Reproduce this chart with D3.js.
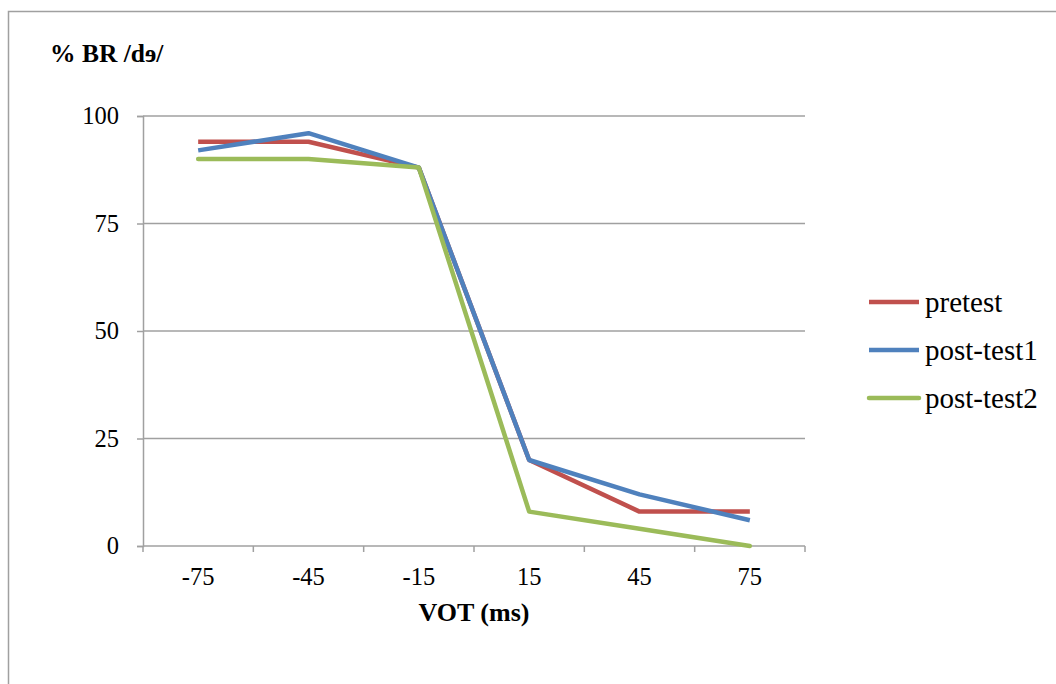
<!DOCTYPE html>
<html>
<head>
<meta charset="utf-8">
<script src="https://cdn.jsdelivr.net/npm/d3@7"></script>
<style>
  html, body { margin: 0; padding: 0; background: #fff; overflow: hidden; }
  svg { display: block; }
  svg text { font-family: "Liberation Serif", "Times New Roman", serif; fill: #000; }
</style>
</head>
<body>
<svg id="mainsvg" width="1056" height="684"></svg>
<script>
const categories = ['-75', '-45', '-15', '15', '45', '75'];
const pretest = [94, 94, 88, 20, 8, 8];
const postTest1 = [92, 96, 88, 20, 12, 6];
const postTest2 = [90, 90, 88, 8, 4, 0];
const yTicks = [0, 25, 50, 75, 100];

const series = [
  { name: 'pretest', values: pretest, color: '#C0504D', cap: 'butt' },
  { name: 'post-test1', values: postTest1, color: '#4F81BD', cap: 'butt' },
  { name: 'post-test2', values: postTest2, color: '#9BBB59', cap: 'round' }
];

const svg = d3.select('#mainsvg');
const margin = { top: 116, left: 143, right: 251, bottom: 138 };
const width = +svg.attr('width');
const height = +svg.attr('height');
const innerWidth = width - margin.left - margin.right;
const innerHeight = height - margin.top - margin.bottom;
const serif = '"Liberation Serif", "Times New Roman", serif';

// chart border: only the top and left edges are inside the page
svg.append('path')
  .attr('d', `M8.5,${height}V11.5H${width}`)
  .attr('fill', 'none').attr('stroke', '#a0a0a0').attr('stroke-width', 1.5);

const g = svg.append('g')
  .attr('transform', `translate(${margin.left}, ${margin.top})`);

const x = d3.scaleBand().domain(categories).range([0, innerWidth]);
const y = d3.scaleLinear().domain([0, 100]).range([innerHeight, 0]);

// gridlines
g.selectAll('.grid').data(yTicks.filter(d => d > 0)).join('line')
  .attr('class', 'grid')
  .attr('x1', 0).attr('x2', innerWidth)
  .attr('y1', d => y(d)).attr('y2', d => y(d))
  .attr('stroke', '#a0a0a0').attr('stroke-width', 1.5);

// y axis
const yAxis = g.append('g').call(d3.axisLeft(y).tickValues(yTicks).tickSize(6).tickPadding(18));
yAxis.attr('font-family', serif);
yAxis.select('.domain').attr('stroke', '#a0a0a0').attr('stroke-width', 1.5);
yAxis.selectAll('.tick line').attr('stroke', '#a0a0a0').attr('stroke-width', 1.5);
yAxis.selectAll('text').style('font-size', '24.5px').style('font-family', serif).attr('fill', '#000');

// x axis
const xAxis = g.append('g').attr('transform', `translate(0, ${innerHeight})`)
  .call(d3.axisBottom(x).tickSize(0).tickPadding(0));
xAxis.attr('font-family', serif);
xAxis.select('.domain').attr('stroke', '#a0a0a0').attr('stroke-width', 1.5).attr('d', `M0,0H${innerWidth}`);
xAxis.selectAll('.tick text').style('font-size', '24.5px').style('font-family', serif)
  .attr('fill', '#000').attr('dy', 0).attr('y', 39);
// tick marks at band boundaries
const bounds = categories.map(c => x(c)).concat([innerWidth]);
xAxis.selectAll('.bound').data(bounds).join('line')
  .attr('class', 'bound')
  .attr('x1', d => d).attr('x2', d => d)
  .attr('y1', 0).attr('y2', 6)
  .attr('stroke', '#a0a0a0').attr('stroke-width', 1.5);

// lines
const line = d3.line()
  .x((d, i) => x(categories[i]) + x.bandwidth() / 2)
  .y(d => y(d));

g.selectAll('.series').data(series).join('path')
  .attr('class', 'series')
  .attr('fill', 'none')
  .attr('stroke', d => d.color)
  .attr('stroke-width', 4.5)
  .attr('stroke-linejoin', 'round')
  .attr('stroke-linecap', d => d.cap)
  .attr('d', d => line(d.values));

// axis titles
svg.append('text').attr('x', 50).attr('y', 62)
  .style('font-size', '25.5px').attr('font-weight', 'bold')
  .text('% BR /dɘ/');
svg.append('text').attr('x', margin.left + innerWidth / 2).attr('y', 621)
  .attr('text-anchor', 'middle')
  .style('font-size', '26px').attr('font-weight', 'bold')
  .text('VOT (ms)');

// legend
const legend = svg.append('g').attr('transform', 'translate(869, 302)');
const item = legend.selectAll('g').data(series).join('g')
  .attr('transform', (d, i) => `translate(0, ${i * 48})`);
item.append('line')
  .attr('x1', 0).attr('x2', 50).attr('y1', 0).attr('y2', 0)
  .attr('stroke', d => d.color).attr('stroke-width', 4.5)
  .attr('stroke-linecap', d => d.cap);
item.append('text').attr('x', 56).attr('y', 10)
  .style('font-size', '29px')
  .text(d => d.name);
</script>
</body>
</html>
